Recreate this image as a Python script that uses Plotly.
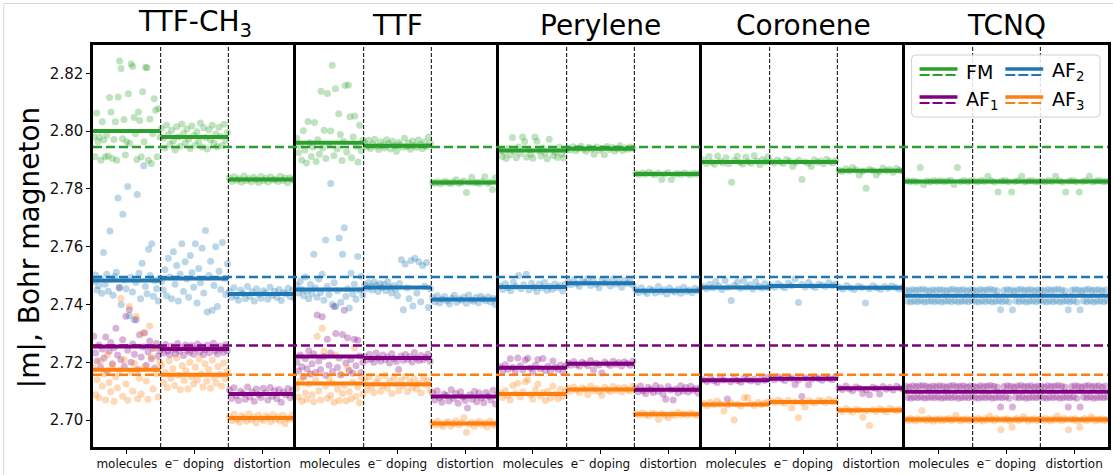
import plotly.graph_objects as go
from plotly.subplots import make_subplots

PANELS = ["TTF-CH3", "TTF", "Perylene", "Coronene", "TCNQ"]
PANEL_TITLES = ["TTF-CH<sub>3</sub>", "TTF", "Perylene", "Coronene", "TCNQ"]
CATEGORIES = ["molecules", "e<sup>\u2212</sup> doping", "distortion"]
SPECIES = ["FM", "AF1", "AF2", "AF3"]
SPECIES_LABELS = {"FM": "FM", "AF1": "AF<sub>1</sub>", "AF2": "AF<sub>2</sub>", "AF3": "AF<sub>3</sub>"}
COLORS = {"FM": "#2ca02c", "AF1": "#800080", "AF2": "#1f77b4", "AF3": "#ff7f0e"}
Y_TICKS = [2.70, 2.72, 2.74, 2.76, 2.78, 2.80, 2.82]

# reference moments (dashed lines across all panels)
REFERENCE = {"FM": 2.7945, "AF1": 2.7258, "AF2": 2.7495, "AF3": 2.7157}

# average moment per panel: (molecules, e- doping, distortion)
LEVEL_FM = [(2.8000, 2.7980, 2.7833), (2.7960, 2.7949, 2.7822), (2.7933, 2.7939, 2.7852),
            (2.7893, 2.7893, 2.7863), (2.7826, 2.7826, 2.7826)]
LEVEL_AF1 = [(2.7255, 2.7246, 2.7090), (2.7220, 2.7215, 2.7082), (2.7181, 2.7195, 2.7105),
             (2.7138, 2.7143, 2.7110), (2.7098, 2.7098, 2.7098)]
LEVEL_AF2 = [(2.7483, 2.7490, 2.7436), (2.7452, 2.7459, 2.7417), (2.7461, 2.7474, 2.7448),
             (2.7459, 2.7464, 2.7458), (2.7430, 2.7430, 2.7430)]
LEVEL_AF3 = [(2.7174, 2.7157, 2.7007), (2.7127, 2.7124, 2.6988), (2.7090, 2.7106, 2.7020),
             (2.7054, 2.7063, 2.7034), (2.7002, 2.7002, 2.7002)]

# individual moments: (molecules, e- doping, distortion)
TTFCH3_FM = (
    [2.7980, 2.7911, 2.8063, 2.7963, 2.7980, 2.7899, 2.8032, 2.7969, 2.7911, 2.7986, 2.7914, 2.8116,
     2.8066, 2.7905, 2.7971, 2.8032, 2.7899, 2.8118, 2.8243, 2.8217, 2.7974, 2.8040, 2.7917, 2.7963,
     2.8129, 2.7957, 2.8233, 2.8224, 2.8047, 2.7991, 2.7902, 2.8066, 2.8037, 2.7911, 2.8136, 2.7963,
     2.8221, 2.8219, 2.7899, 2.8042, 2.7888, 2.7991, 2.8112, 2.8072, 2.7911, 2.8078, 2.7980],
    [2.8010, 2.7975, 2.7942, 2.8021, 2.7988, 2.7955, 2.8003, 2.7966, 2.7935, 2.8015, 2.7980, 2.7948,
     2.8025, 2.7992, 2.7960, 2.8007, 2.7972, 2.7940, 2.8018, 2.7985, 2.7952, 2.7998, 2.7965, 2.8028,
     2.7945, 2.8012, 2.7978, 2.7938, 2.8005, 2.7970, 2.8020, 2.7958, 2.7990, 2.7946, 2.8013, 2.7982,
     2.7950, 2.8024, 2.7968, 2.7995],
    [2.7838, 2.7826, 2.7842, 2.7830, 2.7835, 2.7823, 2.7845, 2.7829, 2.7836, 2.7825, 2.7840, 2.7832,
     2.7822, 2.7843, 2.7828, 2.7837, 2.7824, 2.7841, 2.7831, 2.7834, 2.7826, 2.7844, 2.7829, 2.7838,
     2.7821, 2.7839, 2.7833, 2.7827],
)
TTFCH3_AF1 = (
    [2.7290, 2.7232, 2.7205, 2.7260, 2.7183, 2.7246, 2.7215, 2.7288, 2.7170, 2.7238, 2.7269, 2.7195,
     2.7250, 2.7318, 2.7225, 2.7457, 2.7209, 2.7278, 2.7186, 2.7359, 2.7242, 2.7382, 2.7200, 2.7263,
     2.7228, 2.7347, 2.7175, 2.7295, 2.7218, 2.7253, 2.7302, 2.7190, 2.7236, 2.7274, 2.7212, 2.7248,
     2.7180, 2.7265, 2.7221, 2.7240],
    [2.7250, 2.7232, 2.7262, 2.7240, 2.7226, 2.7256, 2.7245, 2.7230, 2.7265, 2.7238, 2.7252, 2.7224,
     2.7260, 2.7242, 2.7235, 2.7258, 2.7228, 2.7248, 2.7263, 2.7236, 2.7254, 2.7227, 2.7244, 2.7259,
     2.7233, 2.7250, 2.7266, 2.7239, 2.7229, 2.7256, 2.7246, 2.7234, 2.7261, 2.7241],
    [2.7105, 2.7075, 2.7112, 2.7085, 2.7068, 2.7100, 2.7092, 2.7072, 2.7115, 2.7080, 2.7098, 2.7065,
     2.7108, 2.7088, 2.7078, 2.7110, 2.7095, 2.7070, 2.7113, 2.7083, 2.7102, 2.7074, 2.7106, 2.7062,
     2.7097, 2.7087, 2.7109, 2.7077, 2.7104, 2.7081],
)
TTFCH3_AF2 = (
    [2.7480, 2.7502, 2.7450, 2.7465, 2.7491, 2.7439, 2.7580, 2.7470, 2.7505, 2.7446, 2.7654, 2.7488,
     2.7432, 2.7497, 2.7512, 2.7769, 2.7460, 2.7400, 2.7712, 2.7485, 2.7455, 2.7808, 2.7361, 2.7494,
     2.7443, 2.7347, 2.7476, 2.7781, 2.7508, 2.7420, 2.7543, 2.7880, 2.7462, 2.7437, 2.7591, 2.7500,
     2.7610, 2.7429, 2.7483, 2.7455, 2.7412, 2.7490],
    [2.7480, 2.7450, 2.7520, 2.7430, 2.7560, 2.7495, 2.7420, 2.7583, 2.7470, 2.7535, 2.7412, 2.7505,
     2.7610, 2.7445, 2.7548, 2.7488, 2.7425, 2.7570, 2.7510, 2.7460, 2.7610, 2.7405, 2.7525, 2.7475,
     2.7595, 2.7440, 2.7656, 2.7374, 2.7500, 2.7550, 2.7380, 2.7466, 2.7600, 2.7393, 2.7515, 2.7452,
     2.7615, 2.7490, 2.7435, 2.7540],
    [2.7445, 2.7425, 2.7458, 2.7430, 2.7415, 2.7450, 2.7438, 2.7420, 2.7462, 2.7428, 2.7444, 2.7412,
     2.7455, 2.7435, 2.7422, 2.7448, 2.7440, 2.7418, 2.7460, 2.7432, 2.7446, 2.7424, 2.7452, 2.7414,
     2.7442, 2.7436, 2.7456, 2.7427, 2.7449, 2.7419],
)
TTFCH3_AF3 = (
    [2.7180, 2.7088, 2.7140, 2.7077, 2.7205, 2.7118, 2.7160, 2.7070, 2.7226, 2.7130, 2.7098, 2.7190,
     2.7065, 2.7150, 2.7112, 2.7172, 2.7422, 2.7083, 2.7210, 2.7125, 2.7069, 2.7393, 2.7165, 2.7100,
     2.7196, 2.7359, 2.7074, 2.7145, 2.7090, 2.7301, 2.7185, 2.7135, 2.7072, 2.7326, 2.7218, 2.7108,
     2.7250, 2.7160, 2.7080, 2.7200],
    [2.7190, 2.7130, 2.7165, 2.7112, 2.7205, 2.7145, 2.7178, 2.7120, 2.7215, 2.7155, 2.7105, 2.7188,
     2.7138, 2.7170, 2.7108, 2.7200, 2.7150, 2.7125, 2.7183, 2.7140, 2.7212, 2.7160, 2.7115, 2.7195,
     2.7135, 2.7175, 2.7110, 2.7208, 2.7148, 2.7128, 2.7185, 2.7158, 2.7118, 2.7198, 2.7142, 2.7170],
    [2.7012, 2.6998, 2.7020, 2.7003, 2.6993, 2.7015, 2.7008, 2.6996, 2.7022, 2.7001, 2.7010, 2.6990,
     2.7017, 2.7005, 2.6999, 2.7014, 2.7009, 2.6994, 2.7019, 2.7002, 2.7011, 2.6997, 2.7016, 2.6988,
     2.7007, 2.7004, 2.7018, 2.7000],
)

TTF_FM = (
    [2.7975, 2.7925, 2.7950, 2.7900, 2.8001, 2.7935, 2.7890, 2.8033, 2.7960, 2.7912, 2.7945, 2.8030,
     2.7895, 2.7970, 2.7920, 2.8138, 2.7942, 2.8003, 2.7905, 2.8130, 2.7955, 2.8000, 2.8228, 2.7915,
     2.8147, 2.7938, 2.8060, 2.7988, 2.7898, 2.7965, 2.8158, 2.7928, 2.8160, 2.8050, 2.7908, 2.7980,
     2.8052, 2.7948, 2.7893, 2.8020, 2.7932, 2.7968],
    [2.7960, 2.7945, 2.7968, 2.7940, 2.7955, 2.7972, 2.7948, 2.7936, 2.7963, 2.7951, 2.7942, 2.7970,
     2.7957, 2.7938, 2.7965, 2.7949, 2.7930, 2.7961, 2.7953, 2.7944, 2.7975, 2.7946, 2.7959, 2.7937,
     2.7966, 2.7950, 2.7943, 2.7969, 2.7954, 2.7939, 2.7962, 2.7947, 2.7980, 2.7958],
    [2.7822, 2.7820, 2.7825, 2.7818, 2.7823, 2.7826, 2.7821, 2.7819, 2.7824, 2.7832, 2.7820, 2.7822,
     2.7827, 2.7788, 2.7822, 2.7840, 2.7821, 2.7823, 2.7819, 2.7825, 2.7842, 2.7820, 2.7822, 2.7798,
     2.7838, 2.7821],
)
TTF_AF1 = (
    [2.7200, 2.7170, 2.7225, 2.7185, 2.7150, 2.7212, 2.7178, 2.7240, 2.7160, 2.7195, 2.7230, 2.7165,
     2.7364, 2.7205, 2.7175, 2.7358, 2.7220, 2.7155, 2.7280, 2.7190, 2.7232, 2.7168, 2.7393, 2.7300,
     2.7182, 2.7215, 2.7158, 2.7296, 2.7380, 2.7198, 2.7285, 2.7172, 2.7210, 2.7162, 2.7280, 2.7188,
     2.7276, 2.7222, 2.7165, 2.7200],
    [2.7220, 2.7208, 2.7228, 2.7212, 2.7200, 2.7232, 2.7215, 2.7205, 2.7225, 2.7210, 2.7218, 2.7198,
     2.7230, 2.7213, 2.7203, 2.7175, 2.7222, 2.7207, 2.7227, 2.7211, 2.7219, 2.7201, 2.7234, 2.7214,
     2.7206, 2.7224, 2.7209, 2.7217, 2.7229, 2.7204],
    [2.7095, 2.7070, 2.7102, 2.7078, 2.7062, 2.7090, 2.7085, 2.7066, 2.7105, 2.7075, 2.7092, 2.7058,
     2.7098, 2.7080, 2.7068, 2.7042, 2.7088, 2.7072, 2.7100, 2.7064, 2.7094, 2.7077, 2.7060, 2.7096,
     2.7083, 2.7070, 2.7103, 2.7056, 2.7089],
)
TTF_AF2 = (
    [2.7465, 2.7440, 2.7480, 2.7452, 2.7430, 2.7495, 2.7446, 2.7420, 2.7470, 2.7438, 2.7574, 2.7458,
     2.7425, 2.7488, 2.7442, 2.7505, 2.7415, 2.7623, 2.7462, 2.7435, 2.7819, 2.7400, 2.7475, 2.7393,
     2.7448, 2.7630, 2.7408, 2.7574, 2.7666, 2.7428, 2.7455, 2.7388, 2.7508, 2.7436, 2.7470, 2.7418,
     2.7566, 2.7450, 2.7498, 2.7432],
    [2.7468, 2.7455, 2.7475, 2.7462, 2.7450, 2.7478, 2.7466, 2.7445, 2.7472, 2.7458, 2.7470, 2.7448,
     2.7480, 2.7460, 2.7440, 2.7465, 2.7452, 2.7430, 2.7473, 2.7555, 2.7382, 2.7540, 2.7457, 2.7420,
     2.7552, 2.7395, 2.7560, 2.7440, 2.7548, 2.7410, 2.7535, 2.7463, 2.7545, 2.7390, 2.7455],
    [2.7425, 2.7410, 2.7430, 2.7405, 2.7418, 2.7428, 2.7412, 2.7402, 2.7422, 2.7432, 2.7408, 2.7420,
     2.7415, 2.7426, 2.7404, 2.7433, 2.7416, 2.7411, 2.7424, 2.7406, 2.7429, 2.7419, 2.7413, 2.7427,
     2.7409, 2.7421, 2.7400, 2.7423],
)
TTF_AF3 = (
    [2.7110, 2.7080, 2.7135, 2.7065, 2.7150, 2.7095, 2.7072, 2.7125, 2.7160, 2.7088, 2.7064, 2.7140,
     2.7290, 2.7102, 2.7070, 2.7318, 2.7238, 2.7118, 2.7076, 2.7145, 2.7085, 2.7128, 2.7062, 2.7225,
     2.7108, 2.7068, 2.7155, 2.7092, 2.7120, 2.7066, 2.7180, 2.7098, 2.7074, 2.7132, 2.7250, 2.7082,
     2.7115, 2.7060, 2.7148, 2.7090],
    [2.7140, 2.7105, 2.7150, 2.7115, 2.7095, 2.7130, 2.7145, 2.7100, 2.7120, 2.7155, 2.7110, 2.7135,
     2.7092, 2.7148, 2.7125, 2.7102, 2.7138, 2.7118, 2.7152, 2.7098, 2.7132, 2.7112, 2.7142, 2.7108,
     2.7127, 2.7094, 2.7146, 2.7122, 2.7136, 2.7104],
    [2.6992, 2.6982, 2.6996, 2.6985, 2.6978, 2.6990, 2.6994, 2.6980, 2.6988, 2.6998, 2.6984, 2.6991,
     2.7008, 2.6958, 2.6986, 2.6993, 2.6979, 2.6989, 2.6995, 2.6983, 2.6990, 2.6976, 2.6997, 2.6987,
     2.6981, 2.6993],
)

PERYLENE_FM = (
    [2.7935, 2.7912, 2.7928, 2.7905, 2.7940, 2.7918, 2.7978, 2.7930, 2.7908, 2.7945, 2.7922, 2.7980,
     2.7964, 2.7910, 2.7936, 2.7920, 2.7906, 2.7980, 2.7965, 2.7932, 2.7914, 2.7942, 2.7925, 2.7904,
     2.7972, 2.7938, 2.7916, 2.7928, 2.7909, 2.7944, 2.7921, 2.7907, 2.7934],
    [2.7942, 2.7935, 2.7946, 2.7932, 2.7940, 2.7948, 2.7937, 2.7930, 2.7944, 2.7938, 2.7920, 2.7945,
     2.7934, 2.7941, 2.7918, 2.7947, 2.7936, 2.7943, 2.7931, 2.7939, 2.7949, 2.7933, 2.7942, 2.7937,
     2.7945, 2.7940],
    [2.7853, 2.7850, 2.7855, 2.7851, 2.7858, 2.7852, 2.7849, 2.7854, 2.7833, 2.7852, 2.7856, 2.7833,
     2.7851, 2.7853, 2.7850, 2.7855, 2.7852, 2.7849, 2.7854, 2.7851, 2.7856],
)
PERYLENE_AF1 = (
    [2.7185, 2.7170, 2.7192, 2.7176, 2.7212, 2.7182, 2.7168, 2.7215, 2.7188, 2.7174, 2.7208, 2.7214,
     2.7180, 2.7166, 2.7190, 2.7210, 2.7178, 2.7213, 2.7172, 2.7186, 2.7169, 2.7205, 2.7183, 2.7175,
     2.7191, 2.7167, 2.7187],
    [2.7198, 2.7190, 2.7203, 2.7192, 2.7186, 2.7200, 2.7195, 2.7188, 2.7206, 2.7174, 2.7197, 2.7191,
     2.7163, 2.7201, 2.7194, 2.7189, 2.7204, 2.7193, 2.7199, 2.7187, 2.7202, 2.7196, 2.7190, 2.7205],
    [2.7110, 2.7098, 2.7118, 2.7102, 2.7092, 2.7114, 2.7106, 2.7096, 2.7120, 2.7100, 2.7112, 2.7090,
     2.7072, 2.7116, 2.7104, 2.7070, 2.7108, 2.7094, 2.7119, 2.7101, 2.7113, 2.7097, 2.7117, 2.7103,
     2.7109, 2.7093, 2.7115],
)
PERYLENE_AF2 = (
    [2.7465, 2.7452, 2.7472, 2.7458, 2.7448, 2.7478, 2.7462, 2.7500, 2.7455, 2.7468, 2.7505, 2.7450,
     2.7474, 2.7460, 2.7445, 2.7470, 2.7457, 2.7476, 2.7449, 2.7463, 2.7453, 2.7471, 2.7459, 2.7466,
     2.7447, 2.7469],
    [2.7478, 2.7468, 2.7485, 2.7472, 2.7462, 2.7480, 2.7475, 2.7490, 2.7466, 2.7482, 2.7470, 2.7458,
     2.7486, 2.7474, 2.7479, 2.7464, 2.7488, 2.7471, 2.7477, 2.7460, 2.7483, 2.7473, 2.7481, 2.7467],
    [2.7452, 2.7442, 2.7458, 2.7446, 2.7438, 2.7455, 2.7449, 2.7440, 2.7462, 2.7444, 2.7451, 2.7436,
     2.7457, 2.7447, 2.7443, 2.7453, 2.7439, 2.7460, 2.7445, 2.7450, 2.7441, 2.7456, 2.7448, 2.7454],
)
PERYLENE_AF3 = (
    [2.7095, 2.7078, 2.7102, 2.7085, 2.7070, 2.7120, 2.7092, 2.7128, 2.7080, 2.7098, 2.7133, 2.7140,
     2.7088, 2.7072, 2.7105, 2.7125, 2.7083, 2.7096, 2.7068, 2.7100, 2.7076, 2.7118, 2.7090, 2.7074,
     2.7108, 2.7082, 2.7099],
    [2.7110, 2.7100, 2.7115, 2.7104, 2.7096, 2.7112, 2.7107, 2.7088, 2.7118, 2.7102, 2.7109, 2.7098,
     2.7086, 2.7114, 2.7105, 2.7099, 2.7116, 2.7103, 2.7111, 2.7097, 2.7113, 2.7106, 2.7101, 2.7117],
    [2.7022, 2.7018, 2.7025, 2.7019, 2.7015, 2.7024, 2.7020, 2.7002, 2.7023, 2.7017, 2.7008, 2.7021,
     2.7016, 2.7026, 2.7019, 2.7022, 2.7018, 2.7024, 2.7020, 2.7017, 2.7023],
)

CORONENE_FM = (
    [2.7900, 2.7888, 2.7912, 2.7892, 2.7885, 2.7914, 2.7896, 2.7890, 2.7908, 2.7887, 2.7823, 2.7898,
     2.7913, 2.7891, 2.7886, 2.7910, 2.7894, 2.7889, 2.7915, 2.7897, 2.7884, 2.7902, 2.7893, 2.7911],
    [2.7895, 2.7890, 2.7900, 2.7893, 2.7888, 2.7902, 2.7896, 2.7878, 2.7891, 2.7899, 2.7833, 2.7894,
     2.7889, 2.7878, 2.7901, 2.7892, 2.7897, 2.7887, 2.7903, 2.7895, 2.7890, 2.7898],
    [2.7865, 2.7860, 2.7870, 2.7862, 2.7874, 2.7866, 2.7848, 2.7861, 2.7802, 2.7868, 2.7864, 2.7848,
     2.7859, 2.7872, 2.7863, 2.7867, 2.7858, 2.7871, 2.7865, 2.7861],
)
CORONENE_AF1 = (
    [2.7140, 2.7134, 2.7145, 2.7136, 2.7130, 2.7147, 2.7139, 2.7073, 2.7133, 2.7143, 2.7137, 2.7131,
     2.7146, 2.7141, 2.7135, 2.7142, 2.7132, 2.7144, 2.7138, 2.7148],
    [2.7145, 2.7140, 2.7150, 2.7142, 2.7137, 2.7148, 2.7144, 2.7123, 2.7139, 2.7082, 2.7146, 2.7122,
     2.7141, 2.7149, 2.7143, 2.7138, 2.7147, 2.7144, 2.7140, 2.7151],
    [2.7112, 2.7106, 2.7118, 2.7108, 2.7102, 2.7115, 2.7110, 2.7092, 2.7105, 2.7088, 2.7114, 2.7109,
     2.7090, 2.7116, 2.7107, 2.7113, 2.7104, 2.7117, 2.7111, 2.7106],
)
CORONENE_AF2 = (
    [2.7462, 2.7455, 2.7470, 2.7458, 2.7480, 2.7464, 2.7452, 2.7483, 2.7460, 2.7414, 2.7466, 2.7478,
     2.7456, 2.7482, 2.7461, 2.7468, 2.7454, 2.7479, 2.7463, 2.7457, 2.7472, 2.7459],
    [2.7466, 2.7460, 2.7472, 2.7463, 2.7458, 2.7474, 2.7465, 2.7488, 2.7407, 2.7469, 2.7461, 2.7476,
     2.7464, 2.7459, 2.7470, 2.7467, 2.7462, 2.7475, 2.7465, 2.7471],
    [2.7460, 2.7454, 2.7466, 2.7457, 2.7452, 2.7463, 2.7459, 2.7405, 2.7455, 2.7465, 2.7458, 2.7453,
     2.7462, 2.7456, 2.7464, 2.7459, 2.7454, 2.7461],
)
CORONENE_AF3 = (
    [2.7058, 2.7050, 2.7062, 2.7053, 2.7066, 2.7056, 2.7031, 2.7052, 2.7060, 2.7000, 2.7055, 2.7049,
     2.7077, 2.7078, 2.7057, 2.7051, 2.7061, 2.7054, 2.7059, 2.7063],
    [2.7066, 2.7060, 2.7070, 2.7063, 2.7058, 2.7068, 2.7042, 2.7064, 2.7008, 2.7061, 2.7045, 2.7067,
     2.7062, 2.7059, 2.7069, 2.7065, 2.7060, 2.7071, 2.7063, 2.7066],
    [2.7036, 2.7030, 2.7040, 2.7033, 2.7028, 2.7038, 2.7035, 2.7010, 2.7032, 2.6981, 2.7037, 2.7031,
     2.7039, 2.7034, 2.7029, 2.7041, 2.7036, 2.7032, 2.7038, 2.7035],
)

TCNQ_FM_MOL = [2.7828, 2.7825, 2.7827, 2.7824, 2.7874, 2.7815, 2.7827, 2.7824, 2.7829, 2.7826,
               2.7828, 2.7825, 2.7827, 2.7830, 2.7815, 2.7874, 2.7826, 2.7829, 2.7825, 2.7828]
TCNQ_FM_MOD = [2.7827, 2.7825, 2.7829, 2.7826, 2.7844, 2.7828, 2.7824, 2.7789, 2.7827, 2.7829,
               2.7825, 2.7789, 2.7826, 2.7828, 2.7844, 2.7824, 2.7827, 2.7829, 2.7825, 2.7826]
TCNQ_AF1_MOL = [2.7117, 2.7078, 2.7115, 2.7076, 2.7119, 2.7079, 2.7116, 2.7077, 2.7118, 2.7080,
                2.7120, 2.7076, 2.7117, 2.7078, 2.7115, 2.7079, 2.7118, 2.7077, 2.7116, 2.7080,
                2.7119, 2.7076, 2.7117, 2.7078, 2.7115, 2.7079, 2.7118, 2.7077, 2.7120, 2.7080,
                2.7116, 2.7076, 2.7117, 2.7078, 2.7119, 2.7079, 2.7115, 2.7077, 2.7118, 2.7080]
TCNQ_AF1_MOD = [2.7117, 2.7078, 2.7115, 2.7076, 2.7119, 2.7079, 2.7116, 2.7077, 2.7118, 2.7080,
                2.7120, 2.7076, 2.7117, 2.7078, 2.7115, 2.7079, 2.7045, 2.7077, 2.7116, 2.7080,
                2.7119, 2.7076, 2.7117, 2.7045, 2.7115, 2.7079, 2.7118, 2.7077, 2.7120, 2.7080,
                2.7116, 2.7076, 2.7117, 2.7078, 2.7119, 2.7079, 2.7115, 2.7077, 2.7118, 2.7080]
TCNQ_AF2_MOL = [2.7450, 2.7411, 2.7448, 2.7409, 2.7452, 2.7412, 2.7449, 2.7410, 2.7451, 2.7413,
                2.7453, 2.7409, 2.7450, 2.7411, 2.7448, 2.7412, 2.7451, 2.7410, 2.7449, 2.7413,
                2.7452, 2.7409, 2.7450, 2.7411, 2.7448, 2.7412, 2.7451, 2.7410, 2.7453, 2.7413,
                2.7449, 2.7409, 2.7450, 2.7411, 2.7452, 2.7412, 2.7448, 2.7410, 2.7451, 2.7413]
TCNQ_AF2_MOD = [2.7450, 2.7411, 2.7448, 2.7409, 2.7452, 2.7412, 2.7449, 2.7410, 2.7451, 2.7413,
                2.7453, 2.7409, 2.7450, 2.7411, 2.7448, 2.7412, 2.7382, 2.7410, 2.7449, 2.7413,
                2.7452, 2.7409, 2.7450, 2.7382, 2.7448, 2.7412, 2.7451, 2.7410, 2.7453, 2.7413,
                2.7449, 2.7409, 2.7450, 2.7411, 2.7452, 2.7412, 2.7448, 2.7410, 2.7451, 2.7413]
TCNQ_AF3_MOL = [2.7004, 2.6999, 2.7006, 2.7001, 2.6997, 2.7005, 2.7000, 2.7033, 2.7003, 2.6998,
                2.7006, 2.7001, 2.6996, 2.7004, 2.7000, 2.7005, 2.6998, 2.7003, 2.7001, 2.7006,
                2.6999, 2.7002, 2.7017, 2.7004, 2.6997, 2.7003, 2.7000, 2.7005, 2.6999, 2.7002]
TCNQ_AF3_MOD = [2.7004, 2.6999, 2.7006, 2.7001, 2.6997, 2.7005, 2.7000, 2.7014, 2.7003, 2.6998,
                2.7006, 2.7001, 2.6967, 2.7004, 2.7000, 2.7005, 2.6998, 2.6975, 2.7001, 2.7006,
                2.6999, 2.7002, 2.7012, 2.7004, 2.6997, 2.7003, 2.7000, 2.7005, 2.6999, 2.7002]
TCNQ_FM = (TCNQ_FM_MOL, TCNQ_FM_MOD, TCNQ_FM_MOD)
TCNQ_AF1 = (TCNQ_AF1_MOL, TCNQ_AF1_MOD, TCNQ_AF1_MOD)
TCNQ_AF2 = (TCNQ_AF2_MOL, TCNQ_AF2_MOD, TCNQ_AF2_MOD)
TCNQ_AF3 = (TCNQ_AF3_MOL, TCNQ_AF3_MOD, TCNQ_AF3_MOD)

SAMPLES = {
    "TTF-CH3": {"FM": TTFCH3_FM, "AF1": TTFCH3_AF1, "AF2": TTFCH3_AF2, "AF3": TTFCH3_AF3},
    "TTF": {"FM": TTF_FM, "AF1": TTF_AF1, "AF2": TTF_AF2, "AF3": TTF_AF3},
    "Perylene": {"FM": PERYLENE_FM, "AF1": PERYLENE_AF1, "AF2": PERYLENE_AF2, "AF3": PERYLENE_AF3},
    "Coronene": {"FM": CORONENE_FM, "AF1": CORONENE_AF1, "AF2": CORONENE_AF2, "AF3": CORONENE_AF3},
    "TCNQ": {"FM": TCNQ_FM, "AF1": TCNQ_AF1, "AF2": TCNQ_AF2, "AF3": TCNQ_AF3},
}
LEVELS = {"FM": LEVEL_FM, "AF1": LEVEL_AF1, "AF2": LEVEL_AF2, "AF3": LEVEL_AF3}

FONT = "DejaVu Sans"
W, H = 1113, 475
ML, MR, MT, MB = 93, 2, 45, 28
PW, PH = W - ML - MR, H - MT - MB


def px(x):
    return (x - ML) / PW


def py(y):
    return (H - MB - y) / PH


fig = make_subplots(rows=1, cols=5, shared_yaxes=True, horizontal_spacing=0,
                    subplot_titles=PANEL_TITLES)

for p, panel in enumerate(PANELS):
    col = p + 1
    # individual results, spread evenly across each category
    for sp in SPECIES:
        xs, ys = [], []
        for k, vals in enumerate(SAMPLES[panel][sp]):
            n = len(vals)
            xs += [k + (i + 0.5) / n for i in range(n)]
            ys += list(vals)
        fig.add_trace(go.Scatter(x=xs, y=ys, mode="markers", showlegend=False, hoverinfo="skip",
                                 marker=dict(color=COLORS[sp], size=7, opacity=0.3, line=dict(width=0))),
                      row=1, col=col)
    # category averages
    for sp in SPECIES:
        xs, ys = [], []
        for k, lv in enumerate(LEVELS[sp][p]):
            xs += [k, k + 1, None]
            ys += [lv, lv, None]
        fig.add_trace(go.Scatter(x=xs, y=ys, mode="lines", showlegend=False, hoverinfo="skip",
                                 line=dict(color=COLORS[sp], width=4)),
                      row=1, col=col)
    for xv in (1, 2):
        fig.add_vline(x=xv, line=dict(color="black", width=1, dash="4px,2px"), row=1, col=col)

    fig.update_xaxes(range=[0, 3], tickvals=[0.5, 1.5, 2.5], ticktext=CATEGORIES,
                     ticks="outside", ticklen=4, tickwidth=1, tickcolor="black",
                     showline=True, linewidth=2.5, linecolor="black", mirror=True,
                     showgrid=False, zeroline=False,
                     tickfont=dict(family=FONT, size=12, color="#111"), row=1, col=col)
    # one divider line between neighbouring panels: left line of each panel, right line only on the last
    fig.update_yaxes(range=[2.6907, 2.8298], showline=True, linewidth=2.5, linecolor="black",
                     mirror=(col == 5), showgrid=False, zeroline=False,
                     ticks="outside" if col == 1 else "", row=1, col=col)

fig.update_yaxes(tickvals=Y_TICKS, tickformat=".2f", ticklen=4, tickwidth=1, tickcolor="black",
                 tickfont=dict(family=FONT, size=15, color="#111"), row=1, col=1)

# reference values as dashed lines over every panel
for sp in SPECIES:
    fig.add_shape(type="line", xref="paper", yref="y", x0=0, x1=1, y0=REFERENCE[sp], y1=REFERENCE[sp],
                  line=dict(color=COLORS[sp], width=2.5, dash="9px,4px"))

for ann in fig.layout.annotations:
    ann.font = dict(family=FONT, size=28, color="black")
    ann.yshift = 1

fig.add_annotation(text="|m|, Bohr magneton", textangle=-90, xref="paper", yref="paper",
                   x=px(29), y=py(248), xanchor="center", yanchor="middle", showarrow=False,
                   font=dict(family=FONT, size=28, color="black"))

# legend: solid line = average, dashed line = reference
bx0, bx1, by0, by1, r = 914, 1103, 55, 117, 4
path = (f"M {px(bx0 + r)},{py(by0)} L {px(bx1 - r)},{py(by0)} Q {px(bx1)},{py(by0)} {px(bx1)},{py(by0 + r)} "
        f"L {px(bx1)},{py(by1 - r)} Q {px(bx1)},{py(by1)} {px(bx1 - r)},{py(by1)} "
        f"L {px(bx0 + r)},{py(by1)} Q {px(bx0)},{py(by1)} {px(bx0)},{py(by1 - r)} "
        f"L {px(bx0)},{py(by0 + r)} Q {px(bx0)},{py(by0)} {px(bx0 + r)},{py(by0)} Z")
fig.add_shape(type="path", xref="paper", yref="paper", path=path,
              fillcolor="rgba(255,255,255,0.85)", line=dict(color="#d0d0d0", width=1))

legend_slots = {"FM": (922, 70), "AF2": (1008, 70), "AF1": (922, 98), "AF3": (1008, 98)}
for sp, (lx, ly) in legend_slots.items():
    fig.add_shape(type="line", xref="paper", yref="paper", x0=px(lx), x1=px(lx + 38),
                  y0=py(ly - 1), y1=py(ly - 1), line=dict(color=COLORS[sp], width=3.5))
    fig.add_shape(type="line", xref="paper", yref="paper", x0=px(lx), x1=px(lx + 38),
                  y0=py(ly + 5), y1=py(ly + 5), line=dict(color=COLORS[sp], width=2, dash="10px,3px"))
    fig.add_annotation(text=SPECIES_LABELS[sp], xref="paper", yref="paper", x=px(lx + 45), y=py(ly + 2),
                       xanchor="left", yanchor="middle", showarrow=False,
                       font=dict(family=FONT, size=19, color="black"))

# light frame around the figure
fig.add_shape(type="rect", xref="paper", yref="paper", x0=px(3.5), x1=px(W + 5), y0=py(3.5), y1=py(H + 5),
              line=dict(color="#d6d6d6", width=1))

fig.update_layout(width=W, height=H, margin=dict(l=ML, r=MR, t=MT, b=MB),
                  paper_bgcolor="white", plot_bgcolor="white",
                  font=dict(family=FONT, color="black"), showlegend=False)

fig.write_html("out.html")
